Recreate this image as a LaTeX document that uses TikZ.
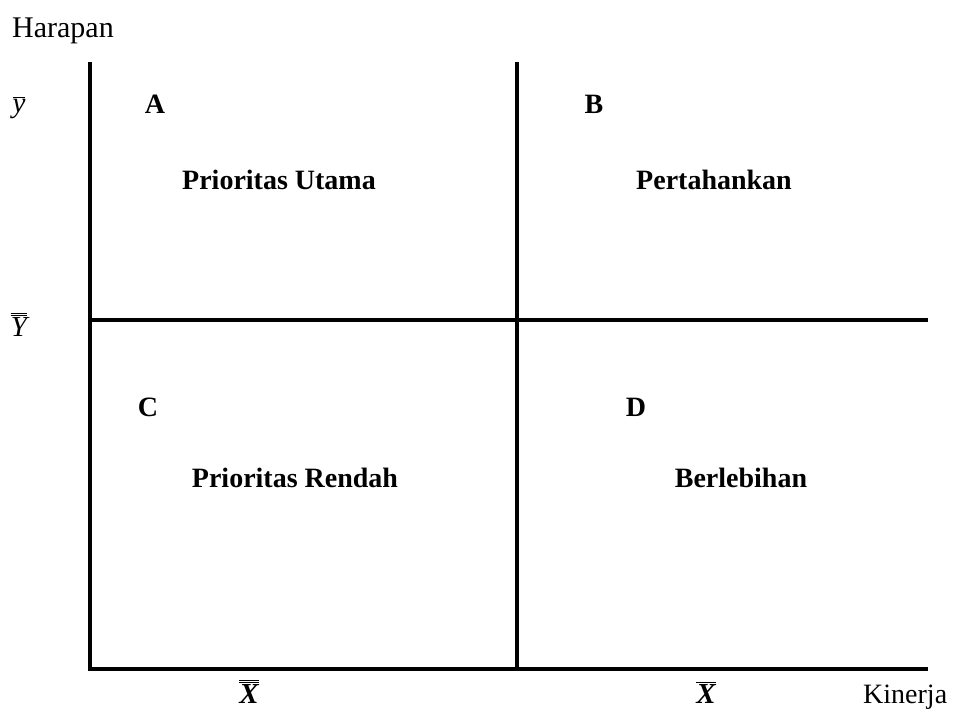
\documentclass[tikz,border=0pt]{standalone}
\usepackage{fontspec}
\setmainfont{Liberation Serif}
\newcommand{\obar}[1]{\ensuremath{\overline{\mbox{#1}}}}
\begin{document}
\begin{tikzpicture}[x=1pt,y=-1pt,
  axis/.style={line width=4.5pt},
  lbl/.style={font=\fontsize{28}{34}\selectfont, inner sep=0pt},
  mlbl/.style={font=\fontsize{29}{34}\selectfont, inner sep=0pt},
  blbl/.style={font=\fontsize{28}{34}\selectfont\bfseries, inner sep=0pt}]
\useasboundingbox (0,0) rectangle (953,716);
% frame coordinates
\coordinate (tl) at (90,62);
\coordinate (bl) at (90,669);
\coordinate (br) at (928,669);
\coordinate (mt) at (517,62);
\coordinate (mb) at (517,669);
\coordinate (ml) at (90,320);
\coordinate (mr) at (928,320);
\draw[axis, line join=miter] (tl) -- (bl) -- (br);
\draw[axis] (mt) -- (mb);
\draw[axis] (ml) -- (mr);
% axis labels
\node[lbl, font=\fontsize{30}{34}\selectfont, anchor=base west] (harapan) at (12,37) {Harapan};
\node[lbl, anchor=base west] (kinerja) at (863,703) {Kinerja};
\node[mlbl, anchor=base] (ybar) at (19,112) {\obar{\itshape y}};
\node[mlbl, anchor=base] (yy) at (19,336) {\ensuremath{\overline{\overline{\mbox{\itshape Y}}}}};
\node[mlbl, anchor=base] (xx) at (249,703) {\ensuremath{\overline{\overline{\mbox{\bfseries\itshape X}}}}};
\node[mlbl, anchor=base] (xbar) at (706,703) {\obar{\bfseries\itshape X}};
% quadrant labels
\node[blbl, anchor=base] (A) at (155,113) {A};
\node[blbl, anchor=base] (B) at (594,113) {B};
\node[blbl, anchor=base] (C) at (148,416) {C};
\node[blbl, anchor=base] (D) at (636,416) {D};
\node[blbl, anchor=base] (pu) at (279,189) {Prioritas Utama};
\node[blbl, anchor=base] (pt) at (714,189) {Pertahankan};
\node[blbl, anchor=base] (pr) at (295,487) {Prioritas Rendah};
\node[blbl, anchor=base] (bh) at (741,487) {Berlebihan};
\end{tikzpicture}
\end{document}
